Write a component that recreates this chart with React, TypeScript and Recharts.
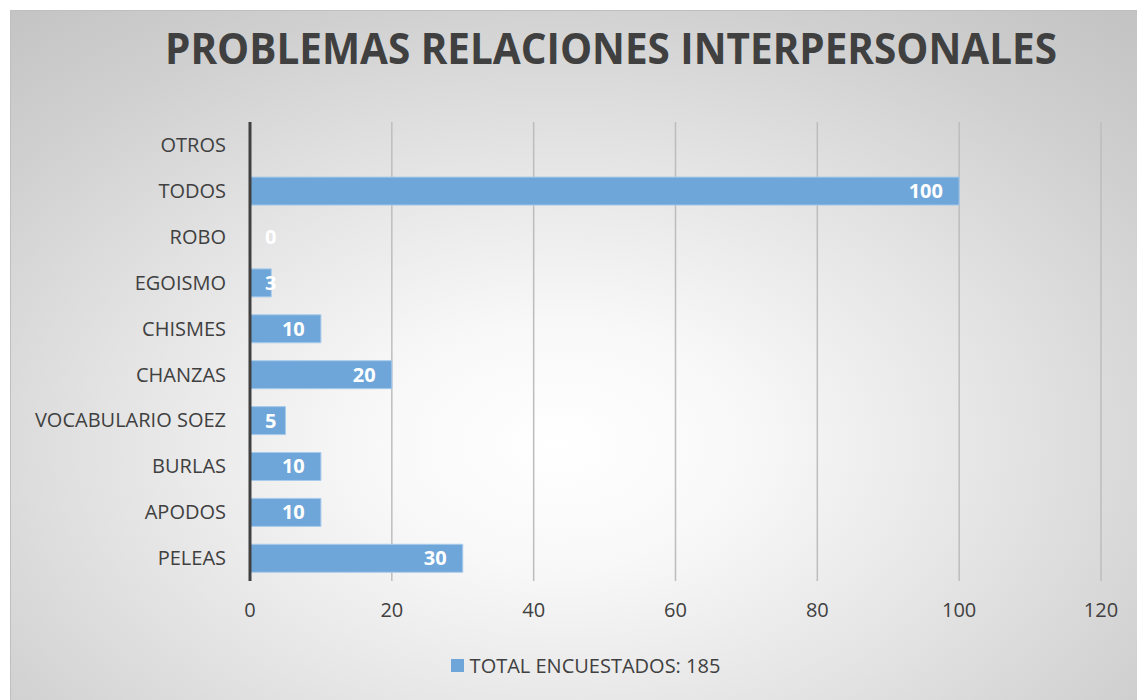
import { BarChart, Bar, XAxis, YAxis, CartesianGrid, LabelList, ReferenceDot } from "recharts";

const categories = ["OTROS", "TODOS", "ROBO", "EGOISMO", "CHISMES", "CHANZAS", "VOCABULARIO SOEZ", "BURLAS", "APODOS", "PELEAS"];
const values: (number | null)[] = [null, 100, 0, 3, 10, 20, 5, 10, 10, 30];
const xTicks = [0, 20, 40, 60, 80, 100, 120];
const seriesName = "TOTAL ENCUESTADOS: 185";
const title = "PROBLEMAS RELACIONES INTERPERSONALES";

const data = categories.map((c, i) => ({ name: c, value: values[i] }));
const zeroRows = data.filter((d) => d.value === 0);

const TEXT = "#404040";
const FONT = "'Open Sans', sans-serif";
const BAR = "#6fa6d9";

function labelStart(x: number, width: number, s: string) {
  const tw = s.length * 11.5;
  return Math.max(x + width - 16 - tw, x + 15);
}

function BarValueLabel(props: any) {
  const { x, y, width, height, value } = props;
  if (value === null || value === undefined) return null;
  const s = String(value);
  return (
    <text x={labelStart(x, width, s)} y={y + height / 2} dy="0.35em" fill="#ffffff" fontSize={20} fontWeight={700} fontFamily={FONT}>
      {s}
    </text>
  );
}

function ZeroLabel(props: any) {
  const { viewBox, value } = props;
  if (!viewBox) return null;
  const s = String(value);
  return (
    <text x={labelStart(viewBox.x, 0, s)} y={viewBox.y} dy="0.35em" fill="#ffffff" fontSize={20} fontWeight={700} fontFamily={FONT}>
      {s}
    </text>
  );
}

export default function App() {
  return (
    <div style={{ position: "absolute", left: 0, top: 0, width: 1137, height: 700, background: "#ffffff", overflow: "hidden", fontFamily: FONT }}>
      <div
        style={{
          position: "absolute",
          left: 10,
          top: 10,
          width: 1140,
          height: 700,
          border: "1px solid #bfbfbf",
          background: "radial-gradient(ellipse 75% 80% at 48% 62%, #ffffff 0%, #f8f8f8 22%, #e4e4e4 52%, #d0d0d0 80%, #c4c4c4 100%)",
        }}
      />
      <svg style={{ position: "absolute", left: 0, top: 0 }} width={1137} height={110}>
        <text
          x={611}
          y={64}
          textAnchor="middle"
          fontSize={43}
          fontWeight={700}
          fill={TEXT}
          fontFamily={FONT}
          textLength={892}
          lengthAdjust="spacingAndGlyphs"
        >
          {title}
        </text>
      </svg>
      <div style={{ position: "absolute", left: 0, top: 0 }}>
        <BarChart
          width={1137}
          height={700}
          data={data}
          layout="vertical"
          margin={{ top: 122, right: 36, left: 4, bottom: 79 }}
          barCategoryGap="20%"
        >
          <CartesianGrid horizontal={false} stroke="#bdbdbd" strokeWidth={1.5} />
          <XAxis
            type="number"
            domain={[0, 120]}
            ticks={xTicks}
            axisLine={false}
            tickLine={false}
            tickSize={0}
            tickMargin={22}
            height={40}
            tick={{ fill: TEXT, fontSize: 20, fontFamily: FONT }}
            interval={0}
          />
          <YAxis
            type="category"
            dataKey="name"
            width={246}
            axisLine={{ stroke: "#404040", strokeWidth: 3 }}
            tickLine={false}
            tickSize={0}
            tickMargin={24}
            tick={{ fill: TEXT, fontSize: 20, fontFamily: FONT }}
            interval={0}
          />
          <Bar dataKey="value" name={seriesName} fill={BAR} stroke="#a9cbeb" strokeWidth={1} isAnimationActive={false}>
            <LabelList dataKey="value" content={BarValueLabel} />
          </Bar>
          {zeroRows.map((d) => (
            <ReferenceDot key={d.name} x={d.value as number} y={d.name} r={0} stroke="none" fill="none" label={<ZeroLabel value={d.value} />} />
          ))}
        </BarChart>
      </div>
      <div
        style={{
          position: "absolute",
          top: 652,
          left: 0,
          width: 1137,
          display: "flex",
          justifyContent: "center",
          alignItems: "center",
          paddingLeft: 34,
          boxSizing: "border-box",
          fontSize: 20,
          color: TEXT,
        }}
      >
        <span style={{ display: "inline-block", width: 13, height: 13, background: BAR, marginRight: 6 }} />
        <span>{seriesName}</span>
      </div>
    </div>
  );
}
